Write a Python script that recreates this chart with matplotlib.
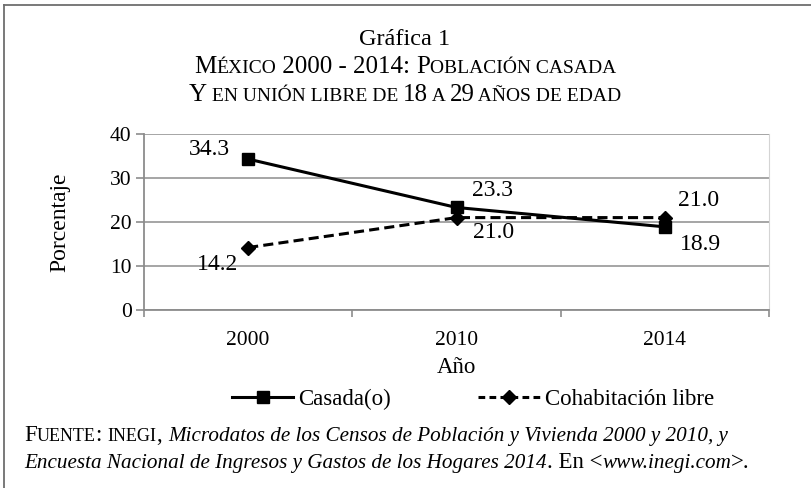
import numpy as np
import matplotlib.pyplot as plt
from matplotlib.lines import Line2D

plt.rcParams['font.family'] = ['Liberation Serif', 'DejaVu Serif']

years = ['2000', '2010', '2014']
casada = [34.3, 23.3, 18.9]
cohab = [14.2, 21.0, 21.0]
# label offsets in points (dx, dy) per point
casada_off = [(-28, 7), (26, 12.5), (26, -12.5)]
cohab_off = [(-22, -12), (27, -11), (24.5, 12)]

dash = (0, (3.3, 1.7))

fig = plt.figure(figsize=(8.11, 4.88), dpi=100)
ax = fig.add_axes([144 / 811, 1 - 310 / 488, 625 / 811, 176 / 488])

x = np.arange(len(years))
ax.plot(x, casada, color='black', linewidth=2.2, marker='s', markersize=8.5)
ax.plot(x, cohab, color='black', linewidth=2.2, linestyle=dash,
        marker='D', markersize=7.5)

for xi, v, (dx, dy) in zip(x, casada, casada_off):
    ax.annotate(f'{v:.1f}', (xi, v), xytext=(dx, dy), textcoords='offset points',
                ha='center', va='center', fontsize=17)
for xi, v, (dx, dy) in zip(x, cohab, cohab_off):
    ax.annotate(f'{v:.1f}', (xi, v), xytext=(dx, dy), textcoords='offset points',
                ha='center', va='center', fontsize=17)

ax.set_xlim(-0.5, 2.5)
ax.set_ylim(0, 40)
ax.set_yticks([0, 10, 20, 30, 40])
ax.set_xticks(x)
ax.set_xticklabels(years)
ax.set_xticks([-0.5, 0.5, 1.5, 2.5], minor=True)
ax.tick_params(axis='x', which='major', length=0, pad=15, labelsize=15.5)
ax.tick_params(axis='x', which='minor', length=5, color='#8c8c8c', width=1.2)
ax.tick_params(axis='y', length=6, color='#8c8c8c', width=1.2, labelsize=15.5, pad=3)
ax.grid(axis='y', color='#9e9e9e', linewidth=1.3)
ax.set_axisbelow(True)
ax.spines['top'].set_visible(False)
ax.spines['left'].set_color('#8c8c8c')
ax.spines['bottom'].set_color('#8c8c8c')
ax.spines['left'].set_linewidth(1.3)
ax.spines['bottom'].set_linewidth(1.3)
ax.spines['right'].set_color('#d4d4d4')
ax.set_ylabel('Porcentaje', fontsize=17)
ax.yaxis.set_label_coords(-0.118, 0.5)
ax.set_xlabel('Año', fontsize=16.5)
ax.xaxis.set_label_coords(0.5, -0.265)

handles = [Line2D([], [], color='black', linewidth=2.2, marker='s', markersize=8.5),
           Line2D([], [], color='black', linewidth=2.2, linestyle=(0, (2.2, 1.4)),
                  marker='D', markersize=7.5)]
fig.legend(handles, ['Casada(o)', 'Cohabitación libre'], loc='center',
           bbox_to_anchor=(473 / 811, 1 - 399 / 488), ncol=2, frameon=False,
           fontsize=16.5, handlelength=2.7, handletextpad=0.22, columnspacing=3.8,
           borderpad=0)

# outer frame (left and top edges)
fig.add_artist(Line2D([4 / 811, 4 / 811], [0, 1 - 5 / 488], transform=fig.transFigure,
                      color='#6e6e6e', linewidth=1.3))
fig.add_artist(Line2D([4 / 811, 1], [1 - 5 / 488, 1 - 5 / 488], transform=fig.transFigure,
                      color='#6e6e6e', linewidth=1.3))

renderer = fig.canvas.get_renderer()


def draw_runs(runs, y, x=None, center=None):
    # runs: list of (text, size, style)
    widths = []
    for t, size, style in runs:
        tt = fig.text(0, 0, t, fontsize=size, style=style)
        widths.append(tt.get_window_extent(renderer).width)
        tt.remove()
    total = sum(widths)
    px = center - total / 2 if center is not None else x
    for (t, size, style), w in zip(runs, widths):
        fig.text(px / 811, 1 - y / 488, t, fontsize=size, style=style,
                 va='baseline', ha='left')
        px += w


B, S = 18, 14
fig.text(405 / 811, 1 - 45 / 488, 'Gráfica 1', fontsize=17.5, ha='center', va='baseline')
draw_runs([('M', B, 'normal'), ('ÉXICO', S, 'normal'), (' 2000 - 2014: ', B, 'normal'),
           ('P', B, 'normal'), ('OBLACIÓN CASADA', S, 'normal')], 73, center=405)
draw_runs([('Y', B, 'normal'), (' EN UNIÓN LIBRE DE ', S, 'normal'), ('18', B, 'normal'),
           (' A ', S, 'normal'), ('29', B, 'normal'), (' AÑOS DE EDAD', S, 'normal')],
          101, center=405)

F, FS, FI = 16.5, 13, 15.2
draw_runs([('F', F, 'normal'), ('UENTE', FS, 'normal'), (': ', F, 'normal'),
           ('INEGI', FS, 'normal'), (', ', F, 'normal'),
           ('Microdatos de los Censos de Población y Vivienda 2000 y 2010, y', FI, 'italic')],
          441, x=24)
draw_runs([('Encuesta Nacional de Ingresos y Gastos de los Hogares 2014', FI, 'italic'),
           ('. En <', F, 'normal'), ('www.inegi.com', FI, 'italic'), ('>.', F, 'normal')],
          468, x=24)

fig.savefig('out.png', dpi=100)
